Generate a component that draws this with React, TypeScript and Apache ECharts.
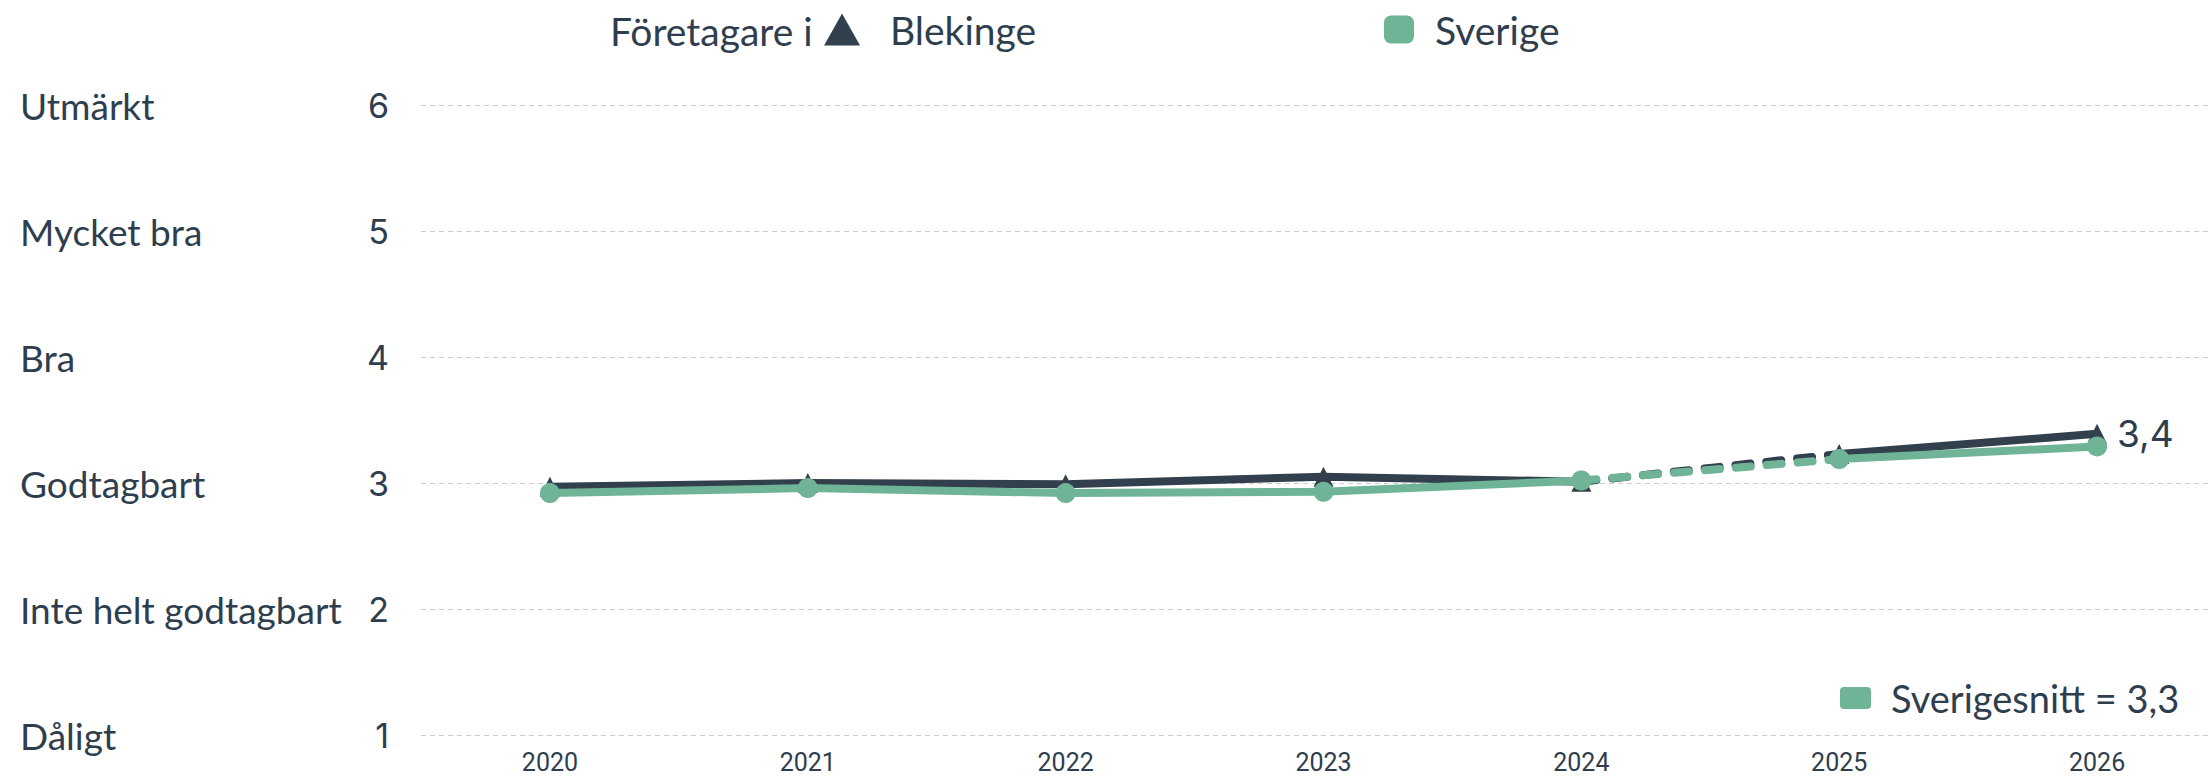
import React, { useEffect, useRef } from "react";
import * as echarts from "echarts";

const years = ["2020", "2021", "2022", "2023", "2024", "2025", "2026"];
const blekinge = [2.97, 3.0, 2.99, 3.05, 3.01, 3.23, 3.39];
const sverige = [2.92, 2.96, 2.92, 2.93, 3.02, 3.19, 3.29];
const levelNames = ["Dåligt", "Inte helt godtagbart", "Godtagbart", "Bra", "Mycket bra", "Utmärkt"];
const forecastStart = 4; // index where dashed part starts (2024 -> 2025)

const DARK = "#323f4c";
const GREEN = "#6fb497";
const TEXT = "#2f3e4e";
const FONT = "Lato, 'Noto Sans', sans-serif";
const NUMFONT = "Inter, Lato, sans-serif";

const fmt = (v: number) => v.toFixed(1).replace(".", ",");

function segments(values: number[]) {
  const solidA = values.map((v, i) => (i <= forecastStart ? v : "-"));
  const dashed = values.map((v, i) => (i >= forecastStart && i <= forecastStart + 1 ? v : "-"));
  const solidB = values.map((v, i) => (i >= forecastStart + 1 ? v : "-"));
  return { solidA, dashed, solidB };
}

export default function App() {
  const ref = useRef<HTMLDivElement>(null);
  useEffect(() => {
    if (!ref.current) return;
    const chart = echarts.init(ref.current, undefined, { renderer: "svg" });
    const b = segments(blekinge);
    const s = segments(sverige);
    const last = years.length - 1;
    const bSolidB = b.solidB.map((v, i) =>
      i === last
        ? {
            value: v,
            label: {
              show: true,
              position: "right",
              distance: 10,
              formatter: (p: any) => fmt(p.value),
              fontSize: 37,
              fontFamily: NUMFONT,
              color: TEXT,
            },
          }
        : v
    );
    const lineBase = (color: string, width: number, symbol: string, size: number) => ({
      type: "line",
      symbol,
      symbolSize: size,
      itemStyle: { color },
      lineStyle: { color, width },
      emphasis: { disabled: true },
    });
    chart.setOption({
      animation: false,
      grid: { left: 421, right: 14, top: 105, bottom: 43, containLabel: false },
      legend: [
        {
          left: 819,
          top: 5,
          itemWidth: 36,
          itemHeight: 32,
          data: [{ name: "Blekinge", icon: "triangle" }],
          textStyle: { fontSize: 39, fontFamily: FONT, color: TEXT, padding: [0, 0, 0, 25] },
          selectedMode: false,
        },
        {
          left: 1379,
          top: 5,
          itemWidth: 30,
          itemHeight: 28,
          data: [{ name: "Sverige", icon: "roundRect" }],
          textStyle: { fontSize: 39, fontFamily: FONT, color: TEXT, padding: [0, 0, 0, 16] },
          selectedMode: false,
        },
      ],
      graphic: [
        {
          type: "text",
          x: 610,
          y: 31,
          style: { text: "Företagare i", fontSize: 39, fontFamily: FONT, fill: TEXT, verticalAlign: "middle" },
        },
        {
          type: "rect",
          x: 1840,
          y: 687,
          shape: { width: 31, height: 22, r: 4 },
          style: { fill: GREEN },
        },
        {
          type: "text",
          x: 1891,
          y: 698,
          style: {
            text: "Sverigesnitt = " + fmt(sverige[last]),
            fontSize: 38,
            fontFamily: FONT,
            fill: TEXT,
            verticalAlign: "middle",
          },
        },
      ],
      xAxis: {
        type: "category",
        data: years,
        boundaryGap: true,
        axisLine: { show: false },
        axisTick: { show: false },
        axisLabel: {
          fontSize: 25,
          lineHeight: 20,
          fontFamily: "Roboto, sans-serif",
          color: TEXT,
          margin: 17,
        },
      },
      yAxis: [
        {
          type: "value",
          min: 1,
          max: 6,
          interval: 1,
          position: "left",
          axisLine: { show: false },
          axisTick: { show: false },
          axisLabel: { fontSize: 34, fontFamily: NUMFONT, color: TEXT, align: "right", margin: 32 },
          splitLine: { show: true, lineStyle: { color: "#cccccc", width: 1, type: [5, 4] } },
        },
        {
          type: "value",
          min: 1,
          max: 6,
          interval: 1,
          position: "left",
          axisLine: { show: false },
          axisTick: { show: false },
          splitLine: { show: false },
          axisLabel: {
            fontSize: 37,
            fontFamily: FONT,
            color: TEXT,
            align: "left",
            margin: 401,
            padding: [10, 0, 0, 0],
            formatter: (v: number) => levelNames[Math.round(v) - 1] ?? "",
          },
        },
      ],
      series: [
        { ...lineBase(DARK, 8, "triangle", 20), name: "Blekinge", data: b.solidA, z: 2 },
        {
          ...lineBase(DARK, 8, "triangle", 20),
          name: "Blekinge",
          data: b.dashed,
          showSymbol: false,
          lineStyle: { color: DARK, width: 8, type: [15, 16], cap: "round" },
          z: 2,
        },
        { ...lineBase(DARK, 8, "triangle", 20), name: "Blekinge", data: bSolidB, z: 2 },
        { ...lineBase(GREEN, 8, "circle", 20), name: "Sverige", data: s.solidA, z: 3 },
        {
          ...lineBase(GREEN, 8, "circle", 20),
          name: "Sverige",
          data: s.dashed,
          showSymbol: false,
          lineStyle: { color: GREEN, width: 8, type: [15, 16], cap: "round" },
          z: 3,
        },
        { ...lineBase(GREEN, 8, "circle", 20), name: "Sverige", data: s.solidB, z: 3 },
      ],
    });
    return () => chart.dispose();
  }, []);
  return (
    <div style={{ position: "fixed", left: 0, top: 0, width: 2211, height: 778, overflow: "hidden", background: "#fff" }}>
      <div ref={ref} style={{ width: 2240, height: 778 }} />
    </div>
  );
}
